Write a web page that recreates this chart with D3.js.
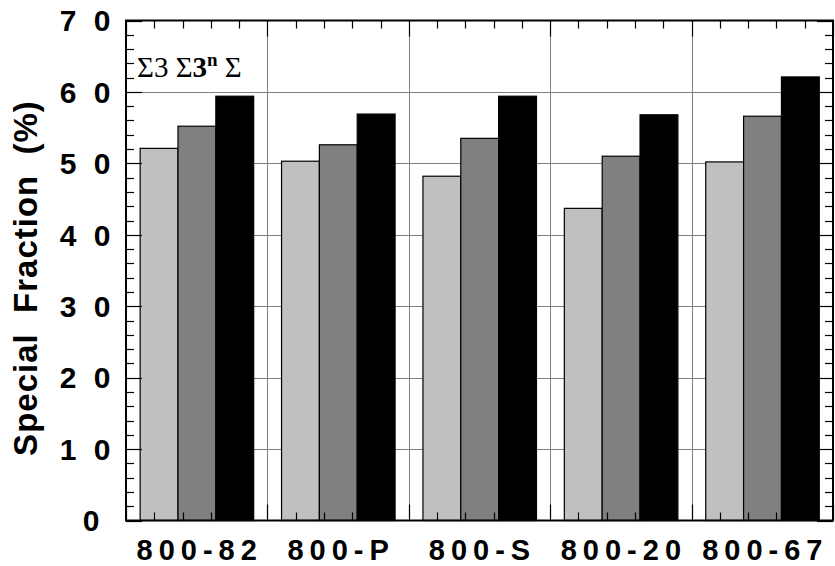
<!DOCTYPE html>
<meta charset="utf-8">
<script src="https://d3js.org/d3.v7.min.js"></script>
<style>
  body { margin: 0; background: #fff; }
  text { font-family: "Liberation Sans", Arial, sans-serif; }
</style>
<svg id="chart" width="835" height="566"></svg>
<script>
// data
var groups = ["800-82", "800-P", "800-S", "800-20", "800-67"];
var sigma3 = [52.1, 50.3, 48.2, 43.7, 50.2];
var sigma3n = [55.2, 52.6, 53.5, 51.0, 56.6];
var sigmaAll = [59.4, 56.9, 59.4, 56.8, 62.1];
var seriesNames = ["s3", "s3n", "sAll"];
var yTickValues = [0, 10, 20, 30, 40, 50, 60, 70];
var yTickLabels = ["0", "1 0", "2 0", "3 0", "4 0", "5 0", "6 0", "7 0"];

var fills = { s3: "#c0c0c0", s3n: "#808080", sAll: "#000000" };

var svg = d3.select("#chart");
var pLeft = 126, pRight = 833, pTop = 20.5, pBottom = 520.5;

var y = d3.scaleLinear().domain([0, 70]).range([pBottom, pTop]);
var x = d3.scaleBand().domain(groups).range([pLeft, pRight]).padding(0);
var xLin = d3.scaleLinear().domain([0, groups.length]).range([pLeft, pRight]);
var gw = x.bandwidth();
var xInner = d3.scaleBand().domain(seriesNames).range([gw * 0.1, gw * 0.903]).padding(0);

var rows = groups.map(function(g, i) {
  return { group: g, s3: sigma3[i], s3n: sigma3n[i], sAll: sigmaAll[i] };
});

// grid
svg.append("g").selectAll("line")
  .data(d3.range(10, 70, 10))
  .enter().append("line")
  .attr("x1", pLeft).attr("x2", pRight)
  .attr("y1", function(d) { return Math.round(y(d)) + 0.5; })
  .attr("y2", function(d) { return Math.round(y(d)) + 0.5; })
  .attr("stroke", "#808080").attr("stroke-width", 1);

svg.append("g").selectAll("line")
  .data(d3.range(1, groups.length))
  .enter().append("line")
  .attr("x1", function(d) { return Math.round(xLin(d)) + 0.5; })
  .attr("x2", function(d) { return Math.round(xLin(d)) + 0.5; })
  .attr("y1", pTop).attr("y2", pBottom)
  .attr("stroke", "#808080").attr("stroke-width", 1);

// bars
svg.append("g").selectAll("g")
  .data(rows)
  .enter().append("g")
  .attr("transform", function(d) { return "translate(" + x(d.group) + ",0)"; })
  .selectAll("rect")
  .data(function(d) { return seriesNames.map(function(k) { return { key: k, value: d[k] }; }); })
  .enter().append("rect")
  .attr("x", function(d) { return xInner(d.key); })
  .attr("width", xInner.bandwidth())
  .attr("y", function(d) { return y(d.value); })
  .attr("height", function(d) { return pBottom - y(d.value); })
  .attr("fill", function(d) { return fills[d.key]; })
  .attr("stroke", "#000").attr("stroke-width", 1.2);

// ticks (inward, on all four sides)
var ticks = svg.append("g").attr("stroke", "#000").attr("stroke-width", 1.2);
d3.range(0, 70.01, 2).forEach(function(v) {
  var len = v % 10 === 0 ? 16 : 8;
  var yy = Math.round(y(v)) + 0.5;
  ticks.append("line").attr("x1", pLeft).attr("x2", pLeft + len).attr("y1", yy).attr("y2", yy);
  ticks.append("line").attr("x1", pRight).attr("x2", pRight - len).attr("y1", yy).attr("y2", yy);
});
d3.range(0, groups.length + 0.01, 0.2).forEach(function(v) {
  var major = Math.abs(v - Math.round(v)) < 1e-6;
  var len = major ? 16 : 8;
  var xx = Math.round(xLin(v)) + 0.5;
  ticks.append("line").attr("x1", xx).attr("x2", xx).attr("y1", pBottom).attr("y2", pBottom - len);
  ticks.append("line").attr("x1", xx).attr("x2", xx).attr("y1", pTop).attr("y2", pTop + len);
});

// frame
svg.append("rect")
  .attr("x", pLeft).attr("y", pTop)
  .attr("width", pRight - pLeft).attr("height", pBottom - pTop)
  .attr("fill", "none").attr("stroke", "#000").attr("stroke-width", 2);

// y tick labels
svg.append("g").selectAll("text")
  .data(yTickValues)
  .enter().append("text")
  .attr("x", function(d) { return d === 0 ? 104 : 115; })
  .attr("y", function(d) { return y(d); })
  .attr("dy", "0.36em")
  .attr("text-anchor", "end")
  .attr("font-size", 30).attr("font-weight", "bold")
  .attr("letter-spacing", 4.5)
  .style("white-space", "pre")
  .text(function(d, i) { return yTickLabels[i]; });

// x labels
svg.append("g").selectAll("text")
  .data(groups)
  .enter().append("text")
  .attr("x", function(d) { return x(d) + gw / 2 + 3; })
  .attr("y", 560)
  .attr("text-anchor", "middle")
  .attr("font-size", 29).attr("font-weight", "bold")
  .attr("letter-spacing", 6)
  .text(function(d) { return d; });

// y axis title
svg.append("text")
  .attr("transform", "translate(37,278) rotate(-90)")
  .attr("text-anchor", "middle")
  .attr("font-size", 33).attr("font-weight", "bold")
  .attr("letter-spacing", 1)
  .style("white-space", "pre")
  .text("Special  Fraction  (%)");

// legend text (symbols as they appear)
var leg = svg.append("text")
  .attr("x", 137).attr("y", 77)
  .attr("font-size", 29)
  .style("font-family", "'Liberation Serif', 'Times New Roman', serif")
  .style("white-space", "pre");
leg.append("tspan").text("\u03A33 \u03A3");
leg.append("tspan").attr("font-weight", "bold").text("3");
leg.append("tspan").attr("font-weight", "bold").attr("font-size", 19).attr("dy", -11).text("n");
leg.append("tspan").attr("dy", 11).text(" \u03A3");
</script>
